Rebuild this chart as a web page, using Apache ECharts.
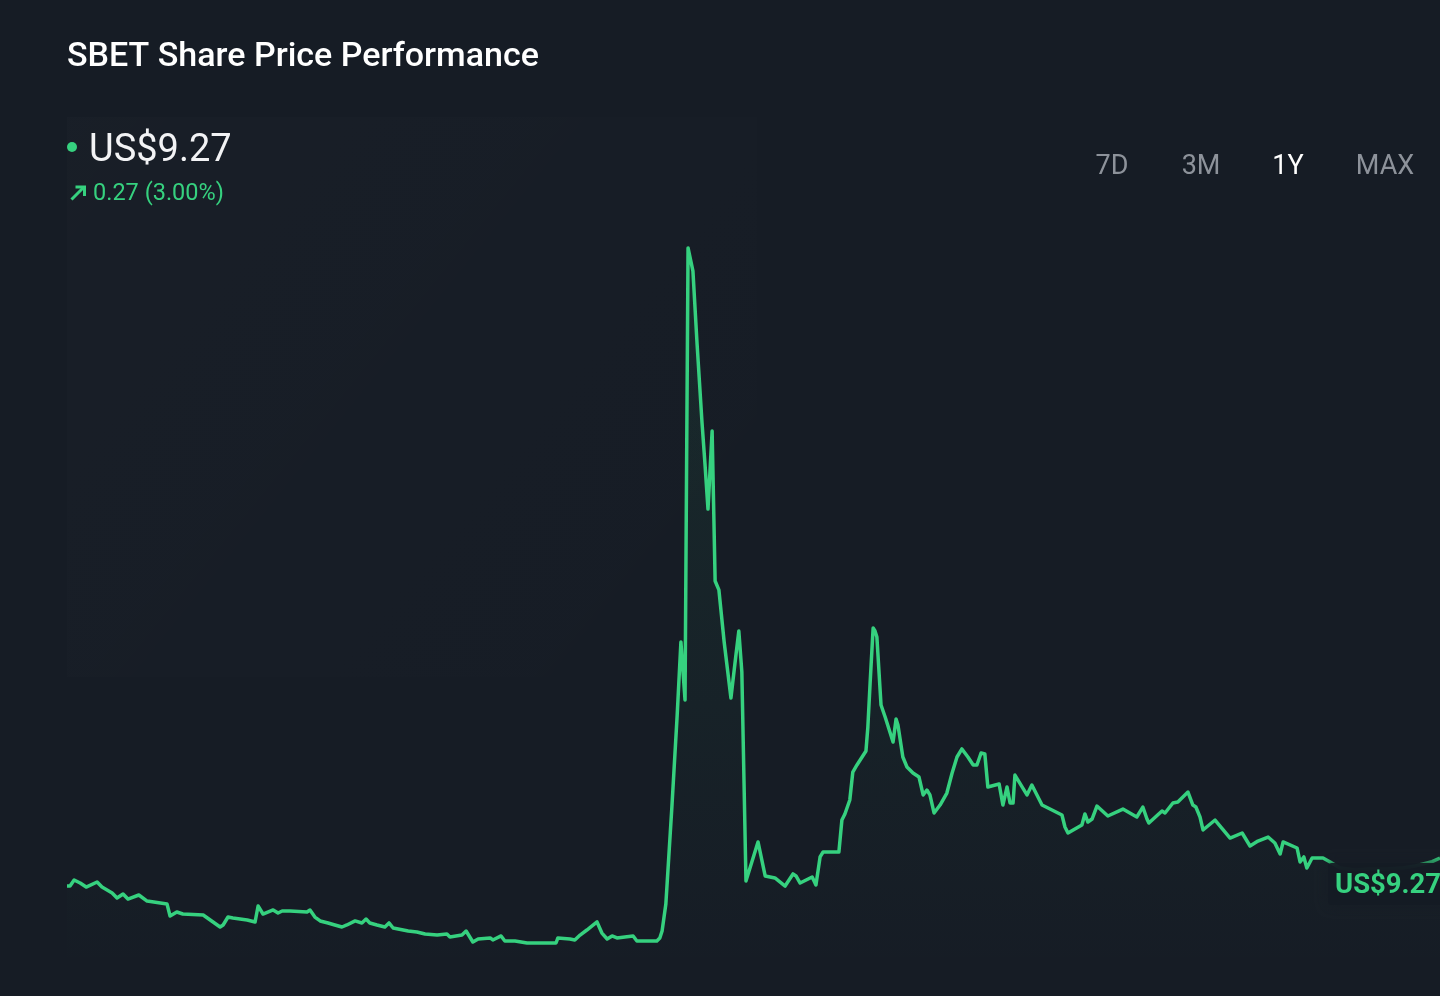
<!DOCTYPE html>
<html>
<head>
<meta charset="utf-8">
<script src="https://cdn.jsdelivr.net/npm/echarts@6/dist/echarts.min.js"></script>
<style>
html,body{margin:0;padding:0;background:#161c25;}
#chart{width:1440px;height:996px;}
</style>
</head>
<body>
<div id="chart"></div>
<script>
// Day offsets within the 1-year window (0 = start, 365 = today)
const days = [
  0.0,0.8,1.9,3.5,5.1,8.0,9.3,12.0,13.3,14.9,16.2,19.1,21.3,26.6,27.4,29.2,30.8,36.2,40.7,41.5,
  42.8,44.1,47.9,50.0,50.8,52.1,54.8,56.1,57.2,59.3,63.8,64.6,65.9,67.3,69.4,71.2,73.1,74.4,76.6,78.4,
  79.5,80.5,82.4,84.5,85.6,86.7,90.7,93.0,95.2,98.4,101.0,101.8,105.0,106.1,107.9,109.3,112.5,113.2,115.4,116.4,
  119.1,122.3,126.5,130.0,130.5,133.7,135.0,136.4,138.2,140.9,142.2,143.6,144.9,146.2,148.3,150.5,151.5,156.8,157.6,158.2,
  159.2,160.8,162.2,163.2,164.3,165.1,166.4,167.5,168.8,169.6,170.4,171.5,172.3,173.3,174.7,176.5,177.8,178.6,179.4,180.5,
  181.0,183.7,185.6,188.2,190.9,193.0,193.8,194.9,198.1,199.1,200.2,201.0,205.2,206.0,206.8,208.1,208.9,210.0,212.4,212.9,
  213.5,214.3,214.8,215.3,216.4,217.5,219.6,220.4,220.9,222.2,223.3,224.9,226.5,227.6,228.6,229.4,230.5,232.1,233.9,235.3,
  236.6,237.9,239.5,240.9,241.9,243.0,244.0,244.8,247.8,248.8,249.9,250.7,251.5,252.0,255.2,256.5,259.2,264.5,265.3,266.1,
  269.8,270.6,271.4,272.5,273.8,276.7,280.7,284.4,286.0,287.1,287.6,291.1,291.9,294.0,295.3,298.0,299.3,300.1,301.2,302.0,
  305.2,309.2,312.4,314.5,316.6,319.3,321.1,322.5,323.3,327.0,327.8,328.8,329.6,331.0,333.9,335.8,338.4,342.4,346.4,350.9,
  355.2,358.4,360.5,362.9,365.0
];
// SBET closing price, US$
const prices = [
  7.06,7.06,7.54,7.30,6.98,7.38,6.98,6.51,6.11,6.43,6.03,6.35,5.87,5.63,4.68,5.00,4.84,4.76,3.81,3.97,
  4.60,4.52,4.37,4.21,5.48,4.84,5.16,4.92,5.08,5.08,5.00,5.16,4.60,4.29,4.13,3.97,3.81,3.97,4.29,4.13,
  4.44,4.13,3.97,3.81,4.13,3.73,3.49,3.41,3.25,3.17,3.25,3.02,3.17,3.49,2.62,2.86,2.94,2.78,3.10,2.70,
  2.70,2.54,2.54,2.54,2.94,2.86,2.78,3.17,3.57,4.21,3.33,2.86,3.10,2.94,3.02,3.10,2.70,2.70,2.94,3.49,
  5.63,13.33,20.56,26.43,21.83,57.70,55.87,50.08,43.89,40.56,36.98,43.17,31.27,30.56,26.43,21.98,25.32,27.30,24.05,7.46,
  7.46,10.56,7.86,7.70,7.06,8.02,7.86,7.30,7.78,7.14,9.37,9.76,9.76,12.30,12.78,13.89,16.11,16.67,17.78,19.68,
  23.17,27.54,27.30,26.83,21.43,20.48,18.49,20.32,19.84,17.30,16.51,16.03,15.71,14.29,14.68,14.29,12.86,13.49,14.44,16.03,
  17.30,17.94,17.30,16.67,16.67,17.62,17.54,14.92,15.16,13.49,14.92,13.65,13.65,15.87,14.29,15.08,13.49,12.70,11.75,11.27,
  11.90,12.78,12.14,12.38,13.41,12.62,13.17,12.54,13.33,12.38,12.06,13.02,12.86,13.65,13.73,14.52,13.49,13.33,12.54,11.51,
  12.30,10.87,11.27,10.24,10.63,10.95,10.48,9.60,10.56,10.08,8.97,9.37,8.49,9.29,9.29,8.97,8.49,8.33,8.41,8.41,
  8.49,8.65,8.81,9.00,9.27
];
const title = 'SBET Share Price Performance';
const lastPrice = 'US$9.27';
const change = '0.27 (3.00%)';
const ranges = ['7D','3M','1Y','MAX'];
const activeRange = '1Y';

const GREEN = '#36d17f';
const series = days.map((d, i) => [d, prices[i]]);

const chart = echarts.init(document.getElementById('chart'), null, {renderer: 'canvas'});
const rangeX = [1112, 1201, 1288, 1385];

chart.setOption({
  backgroundColor: '#161c25',
  animation: false,
  grid: {left: 67, right: 0, top: 219, bottom: 21},
  xAxis: {type: 'value', min: 0, max: 365, show: false},
  yAxis: {type: 'value', min: 0, max: 60, show: false},
  series: [{
    type: 'line',
    data: series,
    showSymbol: false,
    symbol: 'none',
    lineStyle: {color: GREEN, width: 3.5, join: 'round'},
    areaStyle: {
      color: new echarts.graphic.LinearGradient(0, 0, 0, 1, [
        {offset: 0, color: 'rgba(54,209,127,0.11)'},
        {offset: 0.6, color: 'rgba(54,209,127,0.05)'},
        {offset: 1, color: 'rgba(54,209,127,0)'}
      ])
    },
    z: 2
  }],
  graphic: [
    {
      type: 'rect', z: 0, silent: true,
      shape: {x: 67, y: 117, width: 690, height: 560},
      style: {fill: new echarts.graphic.LinearGradient(0, 0, 1, 1, [
        {offset: 0, color: 'rgba(255,255,255,0.010)'},
        {offset: 1, color: 'rgba(255,255,255,0)'}
      ])}
    },
    {
      type: 'text', left: 67, top: 40,
      style: {text: title, fill: '#ffffff', font: '500 34px Roboto'}
    },
    {
      type: 'circle', shape: {cx: 72, cy: 147, r: 5}, style: {fill: GREEN}
    },
    {
      type: 'text', left: 89, top: 132,
      style: {text: lastPrice, fill: '#f2f3f5', font: '400 38px Roboto'}
    },
    {
      type: 'polyline', shape: {points: [[71.5, 199.5], [84, 187]]},
      style: {stroke: GREEN, lineWidth: 3, fill: null}
    },
    {
      type: 'polyline', shape: {points: [[75.5, 187], [84.5, 187], [84.5, 196]]},
      style: {stroke: GREEN, lineWidth: 3, fill: null}
    },
    {
      type: 'text', left: 93, top: 182,
      style: {text: change, fill: GREEN, font: '400 23.5px Roboto'}
    },
    ...ranges.map((r, i) => ({
      type: 'text', x: rangeX[i], y: 167,
      style: {
        text: r, fill: r === activeRange ? '#ffffff' : '#8d929a',
        font: '400 27px Roboto', textAlign: 'center', textVerticalAlign: 'middle'
      }
    })),
    {
      type: 'rect', z: 10,
      shape: {x: 1328, y: 863, width: 130, height: 42, r: 4},
      style: {fill: 'rgba(21,27,36,0.92)', shadowBlur: 12, shadowColor: 'rgba(21,27,36,0.95)'}
    },
    {
      type: 'text', z: 11, x: 1335, y: 886,
      style: {text: lastPrice, fill: GREEN, font: '700 27.5px Roboto', textVerticalAlign: 'middle'}
    }
  ]
});
</script>
</body>
</html>
